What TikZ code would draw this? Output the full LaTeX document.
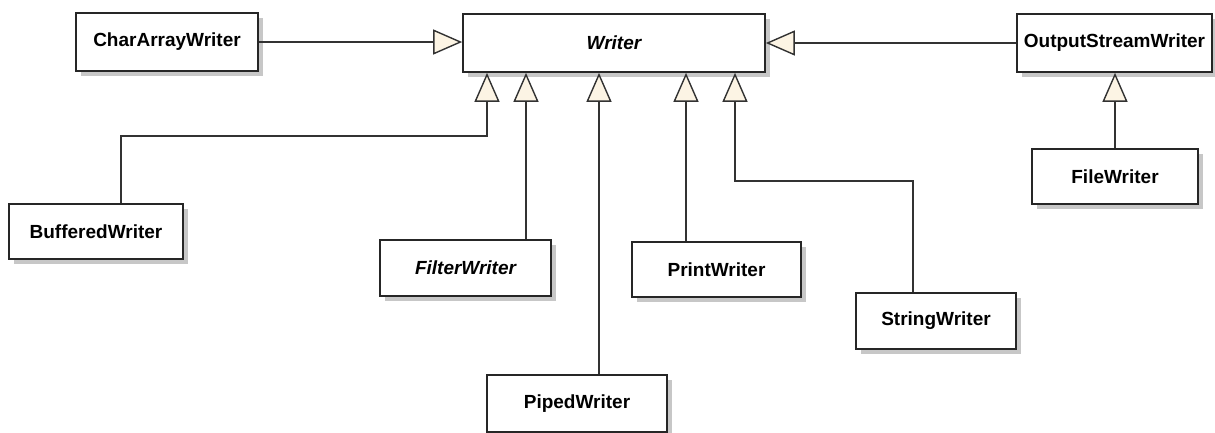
\documentclass[tikz,border=0pt]{standalone}
\usepackage{fontspec}
\setmainfont{Liberation Sans}
\usetikzlibrary{arrows.meta,shadows}
\definecolor{tipfill}{RGB}{252,244,228}
\definecolor{edgecol}{RGB}{50,50,50}
\tikzset{
  cls/.style={draw=black!85, line width=1.7pt, fill=white, inner sep=0pt,
    font=\fontsize{19}{22}\selectfont\bfseries,
    drop shadow={shadow xshift=5pt, shadow yshift=-5pt, fill=black!22, opacity=1}},
  inh/.style={draw=edgecol, line width=1.5pt,
    -{Triangle[length=29pt,width=25pt,fill=tipfill,line width=1.4pt]}}
}
\begin{document}
\begin{tikzpicture}[x=1pt,y=-1pt]
\useasboundingbox (0,0) rectangle (1215,432);
% class boxes
\node[cls, minimum width=182pt, minimum height=58pt] (caw) at (167,42) {CharArrayWriter};
\node[cls, minimum width=302pt, minimum height=58pt] (wr) at (614,43) {\itshape Writer};
\node[cls, minimum width=195pt, minimum height=58pt] (osw) at (1114.5,43) {OutputStreamWriter};
\node[cls, minimum width=166pt, minimum height=55pt] (fiw) at (1115,176.5) {FileWriter};
\node[cls, minimum width=174pt, minimum height=55pt] (bw) at (96,231.5) {BufferedWriter};
\node[cls, minimum width=171pt, minimum height=56pt] (flw) at (465.5,268) {\itshape FilterWriter};
\node[cls, minimum width=169pt, minimum height=55pt] (prw) at (716.5,269.5) {PrintWriter};
\node[cls, minimum width=160pt, minimum height=56pt] (sw) at (936,321) {StringWriter};
\node[cls, minimum width=180pt, minimum height=57pt] (pw) at (577,403.5) {PipedWriter};
% inheritance connectors
\draw[inh] (caw.east) -- (caw.east -| wr.west);
\draw[inh] (osw.west) -- (osw.west -| wr.east);
\draw[inh] ([xshift=25pt]bw.north) -- ++(0,-67) -| ([xshift=-127pt]wr.south);
\draw[inh] ([xshift=60.5pt]flw.north) -- ([xshift=60.5pt]flw.north |- wr.south);
\draw[inh] ([xshift=22pt]pw.north) -- ([xshift=22pt]pw.north |- wr.south);
\draw[inh] ([xshift=-30.5pt]prw.north) -- ([xshift=-30.5pt]prw.north |- wr.south);
\draw[inh] ([xshift=-23pt]sw.north) -- ++(0,-111) -| ([xshift=121pt]wr.south);
\draw[inh] (fiw.north) -- (fiw.north |- osw.south);
\end{tikzpicture}
\end{document}
